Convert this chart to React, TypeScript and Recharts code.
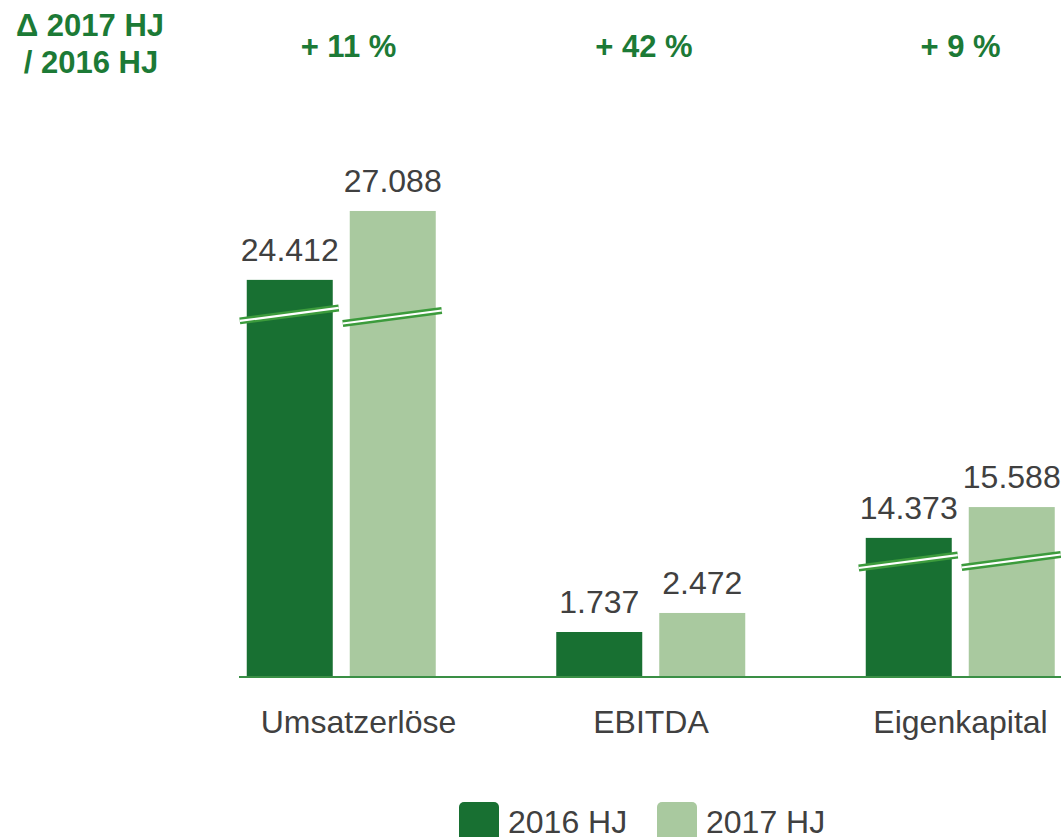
import React from 'react';
import { BarChart, Bar, XAxis, YAxis, LabelList, Legend } from 'recharts';

const categories = ['Umsatzerlöse', 'EBITDA', 'Eigenkapital'];
const deltaLabels = ['+ 11 %', '+ 42 %', '+ 9 %'];
const values2016 = [24412, 1737, 14373];
const values2017 = [27088, 2472, 15588];
// drawn bar heights on the compressed (broken) axis, in thousands
const shown2016 = [15.33, 1.737, 5.37];
const shown2017 = [17.99, 2.472, 6.56];
// where the axis break marker sits (same units), null = no break
const break2016 = [14.0, null, 4.46];
const break2017 = [13.9, null, 4.48];

const DARK = '#187032';
const LIGHT = '#a9c99f';
const BREAK_GREEN = '#3c9b3c';
const TEXT_GREEN = '#1c7a36';
const TEXT_GRAY = '#404040';
const FONT = '"Liberation Sans", Arial, sans-serif';

const data = categories.map((name, i) => ({
  name,
  delta: deltaLabels[i],
  v2016: values2016[i],
  v2017: values2017[i],
  h2016: shown2016[i],
  h2017: shown2017[i],
  b2016: break2016[i],
  b2017: break2017[i],
}));

const fmt = (v: number) => v.toLocaleString('de-DE');

// small horizontal nudges of the text boxes, as in the original slide
const catNudge = [17, 0, 0];
const deltaNudge = [7, -7, 0];

const CategoryTick = (props: any) => {
  const { x, y, payload, index } = props;
  return (
    <text
      x={x + (catNudge[index] || 0)}
      y={y}
      dy="0.71em"
      textAnchor="middle"
      fill={TEXT_GRAY}
      fontSize={32}
      fontFamily={FONT}
    >
      {payload.value}
    </text>
  );
};

const DeltaTick = (props: any) => {
  const { x, y, payload, index } = props;
  return (
    <text
      x={x + (deltaNudge[index] || 0)}
      y={y}
      textAnchor="middle"
      fill={TEXT_GREEN}
      fontSize={31}
      fontWeight="bold"
      fontFamily={FONT}
    >
      {payload.value}
    </text>
  );
};

const makeShape = (heightKey: string, breakKey: string) => (props: any) => {
  const { x, y, width, height, fill, payload } = props;
  const b = payload[breakKey];
  const shown = payload[heightKey];
  const rect = <rect x={x} y={y} width={width} height={height} fill={fill} />;
  if (b == null || !height) return rect;
  const by = y + height - (b / shown) * height;
  const cx = x + width / 2;
  const x1 = x - 7;
  const x2 = x + width + 6;
  const k = 0.131;
  const y1 = by + k * (cx - x1);
  const y2 = by - k * (x2 - cx);
  return (
    <g>
      {rect}
      <line x1={x1} y1={y1} x2={x2} y2={y2} stroke={BREAK_GREEN} strokeWidth={7} />
      <line x1={x1} y1={y1} x2={x2} y2={y2} stroke="#ffffff" strokeWidth={2.2} />
    </g>
  );
};

const LegendContent = (props: any) => {
  const items = props.payload || [];
  return (
    <svg width={420} height={40} style={{ display: 'block' }}>
      {items.map((it: any, i: number) => {
        const ox = i * 198;
        return (
          <g key={it.value}>
            <rect x={ox} y={0} width={40} height={40} rx={5} fill={it.color} />
            <text x={ox + 49} y={31} fontSize={32} fill={TEXT_GRAY} fontFamily={FONT}>
              {it.value}
            </text>
          </g>
        );
      })}
    </svg>
  );
};

export default function App() {
  return (
    <div style={{ position: 'absolute', left: 0, top: 0, width: 1061, height: 837, background: '#fff' }}>
      <BarChart
        width={1061}
        height={837}
        data={data}
        margin={{ top: 33, right: 0, left: 239, bottom: 100 }}
        barSize={86}
        barGap={17}
      >
        <XAxis
          dataKey="name"
          height={60}
          interval={0}
          padding={{ left: -52.25, right: -54.25 }}
          axisLine={{ stroke: '#3a8f45', strokeWidth: 2 }}
          tickLine={false}
          tickSize={0}
          tickMargin={33}
          tick={<CategoryTick />}
        />
        <XAxis
          xAxisId="top"
          dataKey="delta"
          orientation="top"
          height={100}
          interval={0}
          padding={{ left: -52.25, right: -54.25 }}
          axisLine={false}
          tickLine={false}
          tickSize={0}
          tickMargin={76}
          tick={<DeltaTick />}
        />
        <YAxis hide domain={[0, 21]} />
        <Legend
          layout="horizontal"
          verticalAlign="middle"
          align="center"
          content={LegendContent}
          wrapperStyle={{ position: 'absolute', left: 459, top: 802, width: 420, height: 40 }}
        />
        <Bar
          dataKey="h2016"
          name="2016 HJ"
          fill={DARK}
          isAnimationActive={false}
          shape={makeShape('h2016', 'b2016')}
        >
          <LabelList
            dataKey="v2016"
            position="top"
            offset={19}
            formatter={fmt}
            fill={TEXT_GRAY}
            fontSize={32}
            fontFamily={FONT}
          />
        </Bar>
        <Bar
          dataKey="h2017"
          name="2017 HJ"
          fill={LIGHT}
          isAnimationActive={false}
          shape={makeShape('h2017', 'b2017')}
        >
          <LabelList
            dataKey="v2017"
            position="top"
            offset={19}
            formatter={fmt}
            fill={TEXT_GRAY}
            fontSize={32}
            fontFamily={FONT}
          />
        </Bar>
        <text x={90} y={36} textAnchor="middle" fontSize={31} fontWeight="bold" fill={TEXT_GREEN} fontFamily={FONT}>
          Δ 2017 HJ
        </text>
        <text x={91} y={73} textAnchor="middle" fontSize={31} fontWeight="bold" fill={TEXT_GREEN} fontFamily={FONT}>
          / 2016 HJ
        </text>
      </BarChart>
    </div>
  );
}
